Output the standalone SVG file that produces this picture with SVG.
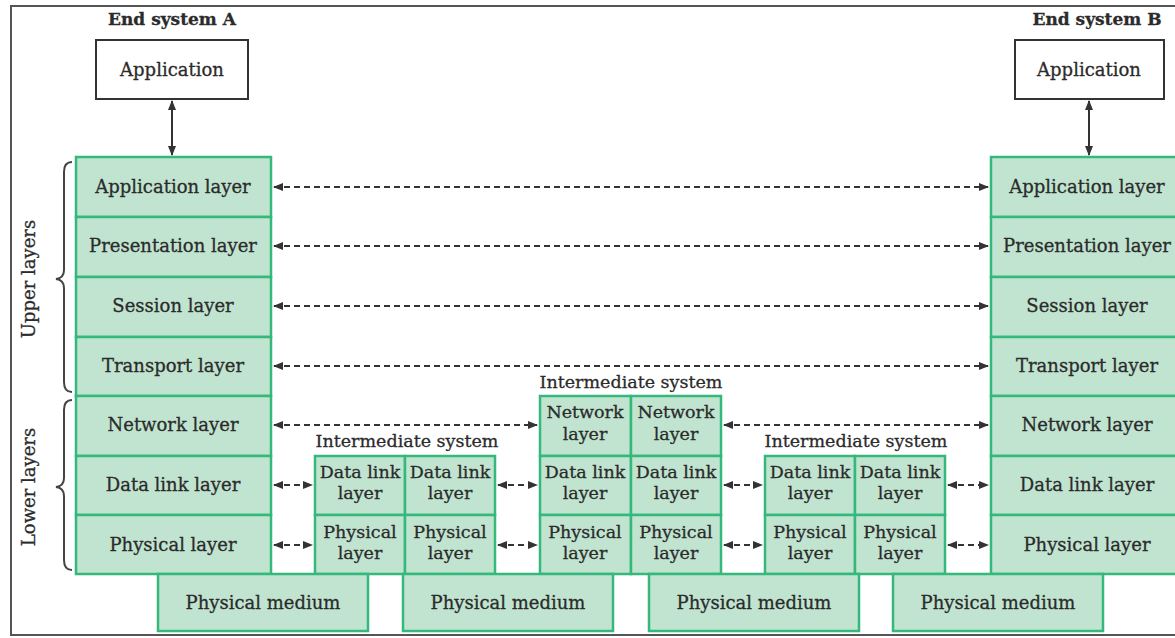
<svg xmlns="http://www.w3.org/2000/svg" width="1175" height="638" viewBox="0 0 1175 638">
  <defs>
    <style>
      text { font-family: "DejaVu Serif", "Liberation Serif", serif; fill: #2b2b2b; stroke: #2b2b2b; stroke-width: 0.3; text-anchor: middle; }
      .lbl { font-size: 18px; }
      .cell { font-size: 17.5px; }
      .title { font-size: 17px; font-weight: bold; }
      .layer { fill: #c0e4d0; stroke: #34b87b; stroke-width: 2.5; }
      .app { fill: #ffffff; stroke: #333333; stroke-width: 2; }
      .dash { stroke: #333333; stroke-width: 2; stroke-dasharray: 6 4; fill: none; marker-start: url(#head); marker-end: url(#head); }
      .solid { stroke: #333333; stroke-width: 2; fill: none; marker-start: url(#head); marker-end: url(#head); }
      .brace { stroke: #444444; stroke-width: 2; fill: none; }
    </style>
    <marker id="head" viewBox="0 0 10 10" refX="9" refY="5" markerWidth="5" markerHeight="5" orient="auto-start-reverse" markerUnits="strokeWidth">
      <path d="M0,1 L10,5 L0,9 z" fill="#333333"/>
    </marker>
  </defs>

  <!-- frame -->
  <rect x="11" y="6" width="1180" height="629" fill="#ffffff" stroke="#555555" stroke-width="2"/>

  <!-- braces and side labels -->
  <g id="upper-layers">
    <path class="brace" d="M72,162 Q64,162 64,172 L64,270 Q64,278 56,279 Q64,280 64,288 L64,382 Q64,392 72,392"/>
    <text class="lbl" transform="translate(35,279) rotate(-90)">Upper layers</text>
  </g>
  <g id="lower-layers">
    <path class="brace" d="M72,400 Q64,400 64,410 L64,478 Q64,486 56,487 Q64,488 64,496 L64,560 Q64,570 72,570"/>
    <text class="lbl" transform="translate(35,487) rotate(-90)">Lower layers</text>
  </g>

  <!-- End system A -->
  <g id="end-system-a">
    <text class="title" x="172" y="25">End system A</text>
    <rect class="app" x="96" y="40" width="152" height="59"/>
    <text class="lbl" x="172" y="76">Application</text>
    <rect class="layer" x="76" y="157" width="195" height="60"/>
    <text class="lbl" x="173" y="193">Application layer</text>
    <rect class="layer" x="76" y="217" width="195" height="60"/>
    <text class="lbl" x="173" y="252">Presentation layer</text>
    <rect class="layer" x="76" y="277" width="195" height="60"/>
    <text class="lbl" x="173" y="312">Session layer</text>
    <rect class="layer" x="76" y="337" width="195" height="59"/>
    <text class="lbl" x="173" y="372">Transport layer</text>
    <rect class="layer" x="76" y="396" width="195" height="60"/>
    <text class="lbl" x="173" y="431">Network layer</text>
    <rect class="layer" x="76" y="456" width="195" height="59"/>
    <text class="lbl" x="173" y="491">Data link layer</text>
    <rect class="layer" x="76" y="515" width="195" height="59"/>
    <text class="lbl" x="173" y="551">Physical layer</text>
  </g>

  <!-- End system B -->
  <g id="end-system-b">
    <text class="title" x="1097" y="25">End system B</text>
    <rect class="app" x="1015" y="40" width="149" height="59"/>
    <text class="lbl" x="1089" y="76">Application</text>
    <rect class="layer" x="991" y="157" width="195" height="60"/>
    <text class="lbl" x="1087" y="193">Application layer</text>
    <rect class="layer" x="991" y="217" width="195" height="60"/>
    <text class="lbl" x="1087" y="252">Presentation layer</text>
    <rect class="layer" x="991" y="277" width="195" height="60"/>
    <text class="lbl" x="1087" y="312">Session layer</text>
    <rect class="layer" x="991" y="337" width="195" height="59"/>
    <text class="lbl" x="1087" y="372">Transport layer</text>
    <rect class="layer" x="991" y="396" width="195" height="60"/>
    <text class="lbl" x="1087" y="431">Network layer</text>
    <rect class="layer" x="991" y="456" width="195" height="59"/>
    <text class="lbl" x="1087" y="491">Data link layer</text>
    <rect class="layer" x="991" y="515" width="195" height="59"/>
    <text class="lbl" x="1087" y="551">Physical layer</text>
  </g>

  <!-- Intermediate system 1 -->
  <g id="intermediate-1">
    <text class="cell" x="407" y="447">Intermediate system</text>
    <rect class="layer" x="315" y="456" width="90" height="59"/>
    <rect class="layer" x="405" y="456" width="90" height="59"/>
    <rect class="layer" x="315" y="515" width="90" height="59"/>
    <rect class="layer" x="405" y="515" width="90" height="59"/>
    <text class="cell" x="360" y="478">Data link</text>
    <text class="cell" x="360" y="499">layer</text>
    <text class="cell" x="450" y="478">Data link</text>
    <text class="cell" x="450" y="499">layer</text>
    <text class="cell" x="360" y="538">Physical</text>
    <text class="cell" x="360" y="559">layer</text>
    <text class="cell" x="450" y="538">Physical</text>
    <text class="cell" x="450" y="559">layer</text>
  </g>

  <!-- Intermediate system 2 (router) -->
  <g id="intermediate-2">
    <text class="cell" x="631" y="388">Intermediate system</text>
    <rect class="layer" x="540" y="396" width="91" height="60"/>
    <rect class="layer" x="631" y="396" width="90" height="60"/>
    <rect class="layer" x="540" y="456" width="91" height="59"/>
    <rect class="layer" x="631" y="456" width="90" height="59"/>
    <rect class="layer" x="540" y="515" width="91" height="59"/>
    <rect class="layer" x="631" y="515" width="90" height="59"/>
    <text class="cell" x="585" y="418">Network</text>
    <text class="cell" x="585" y="440">layer</text>
    <text class="cell" x="676" y="418">Network</text>
    <text class="cell" x="676" y="440">layer</text>
    <text class="cell" x="585" y="478">Data link</text>
    <text class="cell" x="585" y="499">layer</text>
    <text class="cell" x="676" y="478">Data link</text>
    <text class="cell" x="676" y="499">layer</text>
    <text class="cell" x="585" y="538">Physical</text>
    <text class="cell" x="585" y="559">layer</text>
    <text class="cell" x="676" y="538">Physical</text>
    <text class="cell" x="676" y="559">layer</text>
  </g>

  <!-- Intermediate system 3 -->
  <g id="intermediate-3">
    <text class="cell" x="856" y="447">Intermediate system</text>
    <rect class="layer" x="765" y="456" width="90" height="59"/>
    <rect class="layer" x="855" y="456" width="90" height="59"/>
    <rect class="layer" x="765" y="515" width="90" height="59"/>
    <rect class="layer" x="855" y="515" width="90" height="59"/>
    <text class="cell" x="810" y="478">Data link</text>
    <text class="cell" x="810" y="499">layer</text>
    <text class="cell" x="900" y="478">Data link</text>
    <text class="cell" x="900" y="499">layer</text>
    <text class="cell" x="810" y="538">Physical</text>
    <text class="cell" x="810" y="559">layer</text>
    <text class="cell" x="900" y="538">Physical</text>
    <text class="cell" x="900" y="559">layer</text>
  </g>

  <!-- Physical media -->
  <g id="medium-1">
    <rect class="layer" x="158" y="574" width="210" height="57"/>
    <text class="lbl" x="263" y="609">Physical medium</text>
  </g>
  <g id="medium-2">
    <rect class="layer" x="403" y="574" width="210" height="57"/>
    <text class="lbl" x="508" y="609">Physical medium</text>
  </g>
  <g id="medium-3">
    <rect class="layer" x="649" y="574" width="210" height="57"/>
    <text class="lbl" x="754" y="609">Physical medium</text>
  </g>
  <g id="medium-4">
    <rect class="layer" x="893" y="574" width="210" height="57"/>
    <text class="lbl" x="998" y="609">Physical medium</text>
  </g>

  <!-- connectors -->
  <g id="connectors">
    <line class="solid" x1="172" y1="101" x2="172" y2="155"/>
    <line class="solid" x1="1089" y1="101" x2="1089" y2="155"/>
    <line class="dash" x1="274" y1="187" x2="988" y2="187"/>
    <line class="dash" x1="274" y1="246" x2="988" y2="246"/>
    <line class="dash" x1="274" y1="306" x2="988" y2="306"/>
    <line class="dash" x1="274" y1="366" x2="988" y2="366"/>
    <line class="dash" x1="274" y1="425" x2="537" y2="425"/>
    <line class="dash" x1="724" y1="425" x2="988" y2="425"/>
    <line class="dash" x1="274" y1="485" x2="312" y2="485"/>
    <line class="dash" x1="498" y1="485" x2="537" y2="485"/>
    <line class="dash" x1="724" y1="485" x2="762" y2="485"/>
    <line class="dash" x1="948" y1="485" x2="988" y2="485"/>
    <line class="dash" x1="274" y1="545" x2="312" y2="545"/>
    <line class="dash" x1="498" y1="545" x2="537" y2="545"/>
    <line class="dash" x1="724" y1="545" x2="762" y2="545"/>
    <line class="dash" x1="948" y1="545" x2="988" y2="545"/>
  </g>
</svg>
